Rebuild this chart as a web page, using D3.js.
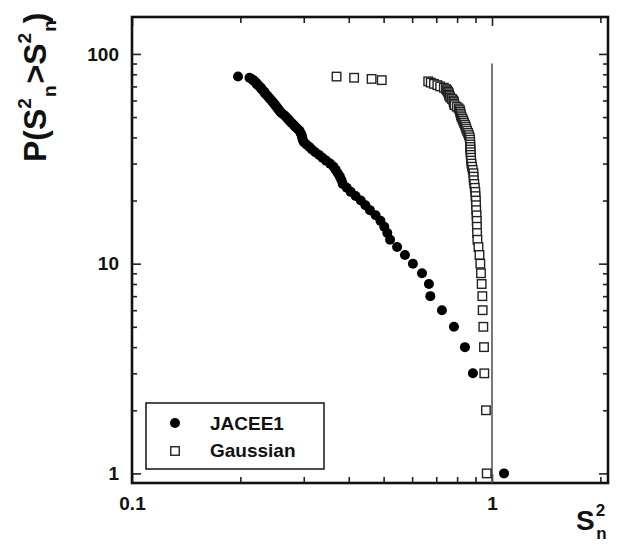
<!DOCTYPE html>
<html>
<head>
<meta charset="utf-8">
<script src="https://cdn.jsdelivr.net/npm/d3@7"></script>
<style>
  body { margin: 0; background: #fff; }
  text { font-family: "Liberation Sans", Arial, Helvetica, sans-serif; font-weight: bold; fill: #111; }
</style>
</head>
<body>
<svg id="chart" width="619" height="557"></svg>
<script>
// JACEE1 event: cumulative probability P(S²n > S²n) against S²n
const jaceeP = [78, 77, 76, 75, 74, 73, 72, 71, 70, 69, 68, 67, 66, 65, 64, 63, 62, 61, 60, 59,
  58, 57, 56, 55, 54, 53, 52, 51, 50, 49, 48, 47, 46, 45, 44, 43, 42, 41, 40, 39,
  38, 37, 36, 35, 34, 33, 32, 31, 30, 29, 28, 27, 26, 25, 24, 23, 22, 21, 20, 19,
  18, 17, 16, 15, 14, 13, 12, 11, 10, 9, 8, 7, 6, 5, 4, 3, 1];
const jaceeS = [0.197, 0.212, 0.215, 0.217, 0.219, 0.221, 0.222, 0.224, 0.226, 0.228, 0.229, 0.231, 0.233, 0.234, 0.236, 0.238, 0.240, 0.242, 0.244, 0.246,
  0.248, 0.250, 0.252, 0.254, 0.256, 0.258, 0.261, 0.265, 0.268, 0.271, 0.274, 0.277, 0.281, 0.284, 0.288, 0.292, 0.294, 0.296, 0.297, 0.298,
  0.300, 0.305, 0.311, 0.316, 0.323, 0.331, 0.338, 0.346, 0.355, 0.363, 0.368, 0.373, 0.378, 0.382, 0.385, 0.395, 0.405, 0.418, 0.432, 0.445,
  0.458, 0.475, 0.490, 0.502, 0.512, 0.521, 0.545, 0.573, 0.603, 0.639, 0.668, 0.674, 0.726, 0.784, 0.841, 0.885, 1.08];

// Gaussian reference sample
const gaussP = [78, 77, 76, 75, 74, 73, 72, 71, 70, 69, 68, 67, 66, 65, 64, 63, 62, 61, 60, 59,
  58, 57, 56, 55, 54, 53, 52, 51, 50, 49, 48, 47, 46, 45, 44, 43, 42, 41, 40, 39,
  38, 37, 36, 35, 34, 33, 32, 31, 30, 29, 28, 27, 26, 25, 24, 23, 22, 21, 20, 19,
  18, 17, 16, 15, 14, 13, 12, 11, 10, 9, 8, 7, 6, 5, 4, 3, 2, 1];
const gaussS = [0.370, 0.414, 0.463, 0.494, 0.665, 0.676, 0.690, 0.705, 0.718, 0.735, 0.745, 0.750, 0.755, 0.758, 0.760, 0.762, 0.766, 0.774, 0.781, 0.783,
  0.785, 0.787, 0.798, 0.808, 0.814, 0.816, 0.818, 0.820, 0.823, 0.828, 0.832, 0.836, 0.841, 0.845, 0.848, 0.853, 0.858, 0.863, 0.867, 0.869,
  0.870, 0.870, 0.871, 0.871, 0.872, 0.873, 0.874, 0.875, 0.877, 0.880, 0.884, 0.888, 0.889, 0.890, 0.893, 0.896, 0.899, 0.900, 0.902, 0.903,
  0.904, 0.906, 0.907, 0.908, 0.909, 0.911, 0.917, 0.923, 0.928, 0.932, 0.936, 0.940, 0.942, 0.946, 0.950, 0.952, 0.962, 0.967];

// Axis ticks
const xMajorTicks = [0.1, 1];
const xMajorLabels = ["0.1", "1"];
const xMinorTicks = [0.2, 0.3, 0.4, 0.5, 0.6, 0.7, 0.8, 0.9, 2];
const yMajorTicks = [1, 10, 100];
const yMajorLabels = ["1", "10", "100"];
const yMinorTicks = [2, 3, 4, 5, 6, 7, 8, 9, 20, 30, 40, 50, 60, 70, 80, 90];

// Vertical marker at S²n = 1
const refLineX = [1];
const refLineTop = [90];

const seriesNames = ["JACEE1", "Gaussian"];

const svg = d3.select("#chart");
const plotLeft = 132, plotRight = 608, plotTop = 17, plotBottom = 483;

const x = d3.scaleLog().domain([0.1, 2.1]).range([plotLeft, plotRight]);
const y = d3.scaleLog().domain([0.9, 150]).range([plotBottom, plotTop]);

// Tick axes on all four sides, ticks pointing inward
function addAxis(axisFn, scale, values, size, labels, transform, pad) {
  const ax = axisFn(scale).tickValues(values).tickSize(-size).tickPadding(pad || 0)
    .tickFormat((d, i) => labels ? labels[i] : "");
  const g = svg.append("g").attr("transform", transform).call(ax);
  g.select(".domain").remove();
  g.selectAll(".tick line").attr("stroke", "#222").attr("stroke-width", 1.6);
  g.selectAll(".tick text").attr("font-size", 19).attr("fill", "#111")
    .attr("font-family", "'Liberation Sans', Arial, sans-serif").attr("font-weight", "bold");
  return g;
}
addAxis(d3.axisBottom, x, xMajorTicks, 9, xMajorLabels, `translate(0,${plotBottom})`, 14);
addAxis(d3.axisBottom, x, xMinorTicks, 6, null, `translate(0,${plotBottom})`);
addAxis(d3.axisTop, x, xMajorTicks, 9, null, `translate(0,${plotTop})`);
addAxis(d3.axisTop, x, xMinorTicks, 6, null, `translate(0,${plotTop})`);
addAxis(d3.axisLeft, y, yMajorTicks, 9, yMajorLabels, `translate(${plotLeft},0)`, 13);
addAxis(d3.axisLeft, y, yMinorTicks, 5, null, `translate(${plotLeft},0)`);
addAxis(d3.axisRight, y, yMajorTicks, 9, null, `translate(${plotRight},0)`);
addAxis(d3.axisRight, y, yMinorTicks, 5, null, `translate(${plotRight},0)`);

// Frame
svg.append("rect")
  .attr("x", plotLeft).attr("y", plotTop).attr("width", plotRight - plotLeft).attr("height", plotBottom - plotTop)
  .attr("fill", "none").attr("stroke", "#111").attr("stroke-width", 2.6);

// Vertical line at S²n = 1
svg.selectAll(".refline").data(refLineX).enter().append("line")
  .attr("x1", d => x(d)).attr("x2", d => x(d))
  .attr("y1", (d, i) => y(refLineTop[i])).attr("y2", plotBottom)
  .attr("stroke", "#555").attr("stroke-width", 1.6);

// Gaussian: open squares
const sq = 8.5;
svg.append("g").selectAll("rect").data(gaussS).enter().append("rect")
  .attr("x", d => x(d) - sq / 2)
  .attr("y", (d, i) => y(gaussP[i]) - sq / 2)
  .attr("width", sq).attr("height", sq)
  .attr("fill", "#fff").attr("stroke", "#222").attr("stroke-width", 1.4);

// JACEE1: filled circles
svg.append("g").selectAll("circle").data(jaceeS).enter().append("circle")
  .attr("cx", d => x(d))
  .attr("cy", (d, i) => y(jaceeP[i]))
  .attr("r", 5).attr("fill", "#000");

// Legend
const lg = svg.append("g");
lg.append("rect").attr("x", 146).attr("y", 403).attr("width", 178).attr("height", 66)
  .attr("fill", "#fff").attr("stroke", "#222").attr("stroke-width", 1.6);
lg.append("circle").attr("cx", 175).attr("cy", 423).attr("r", 5).attr("fill", "#000");
lg.append("rect").attr("x", 175 - sq / 2).attr("y", 451 - sq / 2).attr("width", sq).attr("height", sq)
  .attr("fill", "#fff").attr("stroke", "#222").attr("stroke-width", 1.4);
lg.selectAll("text").data(seriesNames).enter().append("text")
  .attr("x", 210).attr("y", (d, i) => 430 + i * 27)
  .attr("font-size", 19).text(d => d);

// Axis titles with sub/superscripts
function subSup(t, base, small, parts) {
  parts.forEach(p => {
    const ts = t.append("tspan").text(p.s).attr("font-size", p.k ? small : base);
    if (p.dy) ts.attr("dy", p.dy);
    if (p.dx) ts.attr("dx", p.dx);
  });
}
const yt = svg.append("text").attr("transform", "translate(46,162) rotate(-90)");
subSup(yt, 32, 19, [
  { s: "P(S" },
  { s: "2", k: 1, dy: -15 },
  { s: "n", k: 1, dy: 25, dx: 1 },
  { s: ">", dy: -10, dx: 2 },
  { s: "S" },
  { s: "2", k: 1, dy: -15 },
  { s: "n", k: 1, dy: 25, dx: 1 },
  { s: ")", dy: -10, dx: -3 }
]);

const xt = svg.append("text").attr("transform", "translate(576,530)");
subSup(xt, 28, 17, [
  { s: "S" },
  { s: "2", k: 1, dy: -14, dx: 1 },
  { s: "n", k: 1, dy: 23, dx: -9 }
]);
</script>
</body>
</html>
